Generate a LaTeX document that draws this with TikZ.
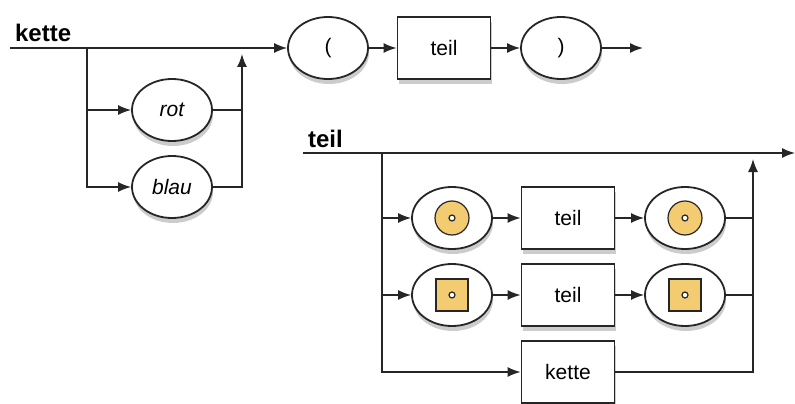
\documentclass[tikz,border=0pt]{standalone}
\usepackage{fontspec}
\setmainfont{Liberation Sans}
\usepackage{xcolor}
\usetikzlibrary{arrows.meta}
\usetikzlibrary{shapes.geometric}
\usetikzlibrary{shadows}
\definecolor{markfill}{RGB}{243,203,112}
\newcommand{\linecolor}{black!85}

\begin{document}
\begin{tikzpicture}[x=1pt, y=-1pt, line width=1.5pt, draw=\linecolor,
	font=\fontsize{21}{25}\selectfont,
	arr/.style={-{Latex[length=13pt,width=10pt]}},
	term/.style={ellipse, draw, fill=white, minimum width=80pt, minimum height=62pt,
		inner sep=0pt, line width=1.8pt,
		drop shadow={shadow xshift=1pt, shadow yshift=-5pt, opacity=0.4}},
	nonterm/.style={rectangle, draw, fill=white, minimum width=93pt, minimum height=62pt,
		inner sep=0pt, line width=1.8pt,
		drop shadow={shadow xshift=1pt, shadow yshift=-5pt, opacity=0.4}},
	title/.style={anchor=base west, font=\fontsize{24}{28}\selectfont\bfseries},
	markround/.style={circle, draw, fill=markfill, minimum size=34pt, inner sep=0pt, line width=1.2pt},
	marksquare/.style={rectangle, draw, fill=markfill, minimum size=32pt, inner sep=0pt, line width=1.2pt},
	markdot/.style={circle, draw, fill=white, minimum size=6pt, inner sep=0pt, line width=1.2pt}]

	\useasboundingbox (0,0) rectangle (795,404);

	% kette
	\node[title] (kettetitle) at (11,42) {kette};
	\coordinate (kstart) at (10,48);
	\coordinate (ksplit) at (87,48);
	\coordinate (kjoin) at (242,54);
	\coordinate (kend) at (643,48);

	\node[term] (rot) at (172,110) {\itshape rot};
	\node[term] (blau) at (172,187) {\itshape blau};
	\node[term] (popen) at (328,48) {(};
	\node[nonterm] (kteil) at (444,48) {teil};
	\node[term] (pclose) at (561,48) {)};

	\draw[arr] (kstart) -- (popen);
	\draw[arr] (ksplit) |- (blau);
	\draw[arr] (ksplit |- rot.west) -- (rot);
	\draw (rot.east) -- (rot.east -| kjoin);
	\draw[arr] (blau.east) -| (kjoin);
	\draw[arr] (popen) -- (kteil);
	\draw[arr] (kteil) -- (pclose);
	\draw[arr] (pclose) -- (kend);

	% teil
	\node[title] (teiltitle) at (304,147) {teil};
	\coordinate (tstart) at (303,153);
	\coordinate (tsplit) at (382,153);
	\coordinate (tjoin) at (753,159);
	\coordinate (tend) at (795,153);

	\node[term] (rin) at (452,218) {};
	\node[nonterm] (rteil) at (568,218) {teil};
	\node[term] (rout) at (685,218) {};
	\node[term] (sin) at (452,295) {};
	\node[nonterm] (steil) at (568,295) {teil};
	\node[term] (sout) at (685,295) {};
	\node[nonterm] (tkette) at (568,372) {kette};

	\foreach \n in {rin, rout} {
		\node[markround] at (\n) {};
		\node[markdot] at (\n) {};
	}
	\foreach \n in {sin, sout} {
		\node[marksquare] at (\n) {};
		\node[markdot] at (\n) {};
	}

	\draw[arr] (tstart) -- (tend);
	\draw[arr] (tsplit) |- (tkette);
	\draw[arr] (tsplit |- rin.west) -- (rin);
	\draw[arr] (tsplit |- sin.west) -- (sin);
	\draw[arr] (rin) -- (rteil);
	\draw[arr] (rteil) -- (rout);
	\draw[arr] (sin) -- (steil);
	\draw[arr] (steil) -- (sout);
	\draw (rout.east) -- (rout.east -| tjoin);
	\draw (sout.east) -- (sout.east -| tjoin);
	\draw[arr] (tkette.east) -| (tjoin);

\end{tikzpicture}
\end{document}
